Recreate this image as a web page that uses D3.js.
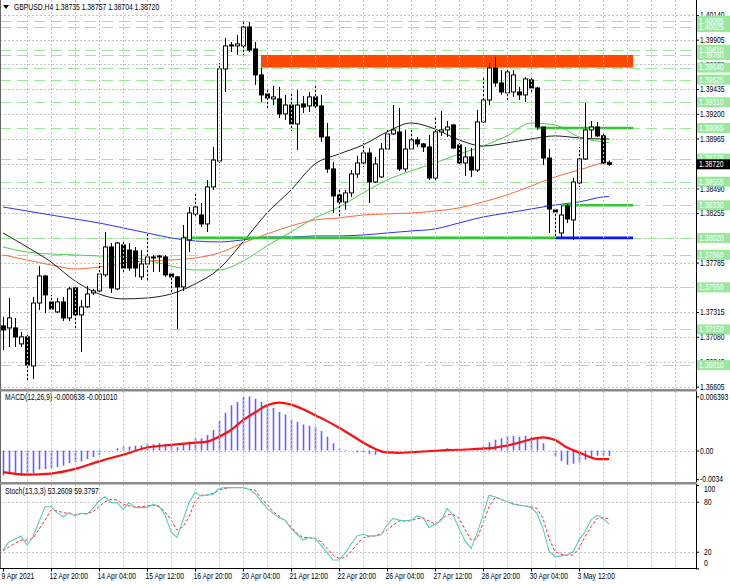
<!DOCTYPE html>
<html>
<head>
<meta charset="utf-8">
<script src="https://cdn.jsdelivr.net/npm/d3@7"></script>
<style>
  body { margin: 0; background: #fff; }
  text { font-family: "Liberation Sans", Arial, sans-serif; font-size: 8.5px; }
</style>
</head>
<body>
<svg id="chart" width="730" height="584"></svg>
<script>
// ======== DATA ========//
// GBPUSD H4 candles: [open, high, low, close]
const candles = [
  [1.37183,1.37269,1.36954,1.37145],[1.37164,1.37449,1.36983,1.37259],[1.37164,1.37259,1.36983,1.37079],
  [1.37012,1.37126,1.36983,1.37079],[1.37079,1.37098,1.36669,1.36811],[1.36802,1.37459,1.36678,1.37401],
  [1.37401,1.37753,1.37335,1.37658],[1.37658,1.37668,1.37306,1.37478],[1.37411,1.37478,1.37335,1.37344],
  [1.37316,1.37449,1.37306,1.37411],[1.37411,1.37459,1.37230,1.37259],[1.37259,1.37554,1.37230,1.37535],
  [1.37544,1.37554,1.37145,1.37288],[1.37288,1.37430,1.36935,1.37364],[1.37364,1.37563,1.37354,1.37487],
  [1.37497,1.37535,1.37478,1.37516],[1.37516,1.37782,1.37497,1.37677],[1.37668,1.38077,1.37649,1.37934],
  [1.37934,1.37972,1.37497,1.37544],[1.37535,1.37982,1.37525,1.37972],[1.37953,1.37982,1.37696,1.37734],
  [1.37905,1.37972,1.37706,1.37734],[1.37896,1.37934,1.37649,1.37734],[1.37649,1.37905,1.37620,1.37772],
  [1.37772,1.38067,1.37620,1.37839],[1.37839,1.37858,1.37696,1.37829],[1.37839,1.37858,1.37696,1.37848],
  [1.37839,1.37858,1.37649,1.37668],[1.37677,1.37696,1.37506,1.37649],[1.37649,1.37658,1.37154,1.37554],
  [1.37554,1.38143,1.37516,1.38020],[1.38001,1.38314,1.37886,1.38257],[1.38248,1.38448,1.38219,1.38314],
  [1.38238,1.38352,1.38124,1.38153],[1.38153,1.38571,1.38077,1.38505],[1.38505,1.38885,1.38476,1.38761],
  [1.38752,1.39682,1.38733,1.39627],[1.39627,1.39922,1.39408,1.39846],[1.39855,1.39884,1.39788,1.39846],
  [1.39846,1.39950,1.39760,1.39865],[1.39846,1.40074,1.39760,1.40026],[1.40026,1.40074,1.39788,1.39807],
  [1.39817,1.39884,1.39475,1.39570],[1.39570,1.39636,1.39313,1.39380],[1.39389,1.39446,1.39256,1.39351],
  [1.39342,1.39465,1.39284,1.39361],[1.39342,1.39456,1.39161,1.39199],[1.39199,1.39380,1.39142,1.39284],
  [1.39284,1.39408,1.39037,1.39104],[1.39104,1.39427,1.38856,1.39284],[1.39294,1.39370,1.39208,1.39265],
  [1.39275,1.39408,1.39218,1.39361],[1.39361,1.39484,1.39237,1.39275],[1.39275,1.39380,1.38933,1.38980],
  [1.38980,1.39113,1.38638,1.38676],[1.38676,1.38742,1.38257,1.38419],[1.38429,1.38476,1.38219,1.38362],
  [1.38362,1.38476,1.38286,1.38448],[1.38448,1.38666,1.38410,1.38628],[1.38628,1.38799,1.38590,1.38733],
  [1.38733,1.38923,1.38695,1.38828],[1.38828,1.38875,1.38352,1.38552],[1.38552,1.38790,1.38543,1.38723],
  [1.38600,1.38923,1.38590,1.38866],[1.38866,1.39047,1.38856,1.39009],[1.39009,1.39284,1.38999,1.39047],
  [1.39028,1.39256,1.38657,1.38676],[1.38676,1.39047,1.38647,1.38866],[1.38866,1.39047,1.38856,1.38952],
  [1.38952,1.38980,1.38885,1.38914],[1.38914,1.38923,1.38837,1.38885],[1.38885,1.38999,1.38571,1.38590],
  [1.38590,1.39170,1.38571,1.39028],[1.39028,1.39227,1.38990,1.39047],[1.39047,1.39132,1.38980,1.39075],
  [1.39094,1.39104,1.38866,1.38875],[1.38904,1.38923,1.38714,1.38733],[1.38733,1.38885,1.38609,1.38790],
  [1.38790,1.38875,1.38600,1.38666],[1.38666,1.39237,1.38647,1.39123],[1.39123,1.39541,1.39113,1.39332],
  [1.39332,1.39682,1.39284,1.39636],[1.39636,1.39741,1.39456,1.39494],[1.39494,1.39617,1.39380,1.39408],
  [1.39399,1.39636,1.39313,1.39598],[1.39408,1.39617,1.39361,1.39570],[1.39408,1.39456,1.39332,1.39380],
  [1.39380,1.39551,1.39313,1.39532],[1.39522,1.39541,1.39408,1.39446],[1.39446,1.39456,1.39047,1.39075],
  [1.39075,1.39075,1.38714,1.38780],[1.38780,1.38866,1.38067,1.38295],[1.38286,1.38295,1.38029,1.38267],
  [1.38067,1.38333,1.38029,1.38238],[1.38324,1.38343,1.38162,1.38200],[1.38191,1.38590,1.38001,1.38552],
  [1.38543,1.38885,1.38505,1.38771],[1.38771,1.39303,1.38761,1.39047],[1.39047,1.39132,1.38971,1.39075],
  [1.39075,1.39123,1.38980,1.38990],[1.38990,1.39009,1.38723,1.38733],[1.38735,1.38757,1.38704,1.38720]
]

// moving averages, read every 4 bars
const maIdx = [0,4,8,12,16,20,24,28,32,36,40,44,48,52,56,60,64,68,72,76,80,84,88,92,96,100,101]
const maBlack = [1.38067,1.37934,1.37791,1.37611,1.37487,1.37440,1.37449,1.37487,1.37582,1.37725,1.37982,1.38257,1.38476,1.38723,1.38818,1.38904,1.39028,1.39113,1.39056,1.38952,1.38894,1.38923,1.38961,1.38990,1.38971,1.38961,1.38961]
const maGreen = [1.37934,1.37886,1.37867,1.37858,1.37848,1.37839,1.37810,1.37753,1.37715,1.37715,1.37801,1.37944,1.38077,1.38210,1.38314,1.38448,1.38571,1.38657,1.38733,1.38818,1.38894,1.38990,1.39113,1.39094,1.38980,1.38933,1.38925]
const maOrange = [1.37858,1.37810,1.37763,1.37725,1.37744,1.37782,1.37801,1.37810,1.37829,1.37877,1.37972,1.38058,1.38134,1.38191,1.38210,1.38238,1.38248,1.38257,1.38276,1.38305,1.38362,1.38429,1.38514,1.38600,1.38666,1.38733,1.38745]
const maBlue = [1.38314,1.38276,1.38238,1.38200,1.38162,1.38115,1.38067,1.38020,1.37991,1.37982,1.38001,1.38029,1.38029,1.38039,1.38039,1.38048,1.38067,1.38086,1.38105,1.38162,1.38219,1.38257,1.38295,1.38333,1.38362,1.38410,1.38415]

// price scale labels (some sit under the level tags)
const priceTicks = [1.40140,1.39905,1.39670,1.39435,1.39200,1.38965,1.38725,1.38490,1.38255,1.38020,1.37785,1.37550,1.37315,1.37080,1.36840,1.36605]
const hiddenTicks = [1.38725, 1.38020, 1.37550]
// dashed support / resistance levels
const levels = [1.40085,1.40025,1.39810,1.39760,1.39640,1.39525,1.39310,1.39065,1.38775,1.38555,1.38330,1.38020,1.37860,1.37550,1.37150,1.36810]
// resistance zone
const zoneTop = 1.39760, zoneBottom = 1.39640, zoneFrom = 43, zoneTo = 105
// solid level segments
const segLevel = [1.39065, 1.38330, 1.38020, 1.38020]
const segFrom = [89, 93, 30, 92]
const segTo = [105, 105, 92, 105]
const segKind = ['green', 'green', 'green', 'blue']
const lastPrice = 1.38720

// MACD(12,26,9)
const macdHist = [
  -0.00297,-0.00285,-0.00293,-0.00293,-0.00293,-0.00265,-0.00226,-0.00218,-0.00206,-0.00195,
  -0.00179,-0.00148,-0.00136,-0.00129,-0.00101,-0.00077,-0.00050,-0.00004,0.00004,0.00027,
  0.00047,0.00047,0.00055,0.00059,0.00079,0.00074,0.00086,0.00079,0.00067,0.00039,
  0.00074,0.00106,0.00144,0.00144,0.00184,0.00243,0.00352,0.00446,0.00536,0.00575,
  0.00633,0.006393,0.00613,0.00575,0.00543,0.00504,0.00457,0.00426,0.00367,0.00340,
  0.00309,0.00293,0.00282,0.00231,0.00164,0.00086,0.00027,0.00008,-0.00004,-0.00020,
  -0.00023,-0.00039,-0.00050,-0.00023,-0.00012,-0.00004,0.00004,-0.00004,-0.00012,0.00002,
  0.00004,-0.00004,0.00004,0.00012,0.00027,0.00012,0.00012,0.00004,-0.00004,0.00015,
  0.00047,0.00097,0.00126,0.00144,0.00172,0.00172,0.00164,0.00176,0.00164,0.00144,
  0.00086,-0.00002,-0.00070,-0.00123,-0.00168,-0.00156,-0.00141,-0.00109,-0.00090,-0.00062,
  -0.00062,-0.000638
]
const macdSigIdx = [0,4,8,12,16,20,24,28,32,34,36,38,40,42,44,46,48,50,52,54,56,58,60,62,64,66,70,74,78,82,84,86,88,90,92,94,96,98,99,101]
const macdSig = [-0.00255,-0.00285,-0.00273,-0.00218,-0.00129,-0.00050,0.00035,0.00067,0.00094,0.00106,0.00164,0.00243,0.00360,0.00450,0.00536,0.00567,0.00543,0.00489,0.00418,0.00348,0.00270,0.00184,0.00094,0.00020,-0.00023,-0.00027,-0.00012,0.00004,0.00015,0.00035,0.00059,0.00094,0.00133,0.00156,0.00125,0.00035,-0.00023,-0.00082,-0.00101,-0.00101]
const macdTicks = [0.006393, 0, -0.0034]
const macdTickText = ['0.006393', '0.00', '-0.0034']

// Stochastic(13,3,3)
const stochMain = [
  22,32,35,39,28,38,56,74,74,67,62,67,63,66,65,72,81,86,79,79,
  71,79,73,73,73,77,75,64,44,37,58,79,91,87,88,89,96,97,97,97,
  97,95,90,81,72,66,61,58,48,41,34,37,36,28,19,10,10,18,29,39,
  41,39,39,40,52,60,58,57,58,63,61,49,53,57,72,64,48,33,24,42,
  64,88,86,83,80,77,76,75,73,66,48,21,14,15,16,20,34,44,58,64,
  60,53.26
]
const stochSignal = [
  21,26,30,34,34,36,47,58,70,69,67,66,64,66,66,68,74,80,83,82,
  77,75,74,74,75,76,74,68,58,46,50,62,80,88,88,90,94,96,97,97,
  97,95,94,84,77,68,63,57,50,42,37,37,36,32,24,16,12,13,20,29,
  37,38,39,42,46,52,57,57,57,60,60,57,53,59,64,65,60,47,34,36,
  54,74,85,83,80,78,76,75,74,72,60,36,20,17,16,16,24,38,50,60,
  61,59.38
]
const stochTicks = [100, 80, 20, 0]

// time axis
const timeIdx = [0,8,16,24,32,40,48,56,64,72,80,88,96]
const timeLabels = ['9 Apr 2021','12 Apr 20:00','14 Apr 04:00','15 Apr 12:00','16 Apr 20:00','20 Apr 04:00',
  '21 Apr 12:00','22 Apr 20:00','26 Apr 04:00','27 Apr 12:00','28 Apr 20:00','30 Apr 04:00','3 May 12:00']

// ======== LAYOUT ========//
const plotRight = 696
const panels = {
  main: [0, 389],
  macd: [391.5, 482],
  stoch: [484.5, 568]
}

const svg = d3.select('#chart')
svg.append('rect').attr('width', 730).attr('height', 584).attr('fill', '#fff')

const x = d3.scaleLinear().domain([0, 1]).range([3, 9])
const yPrice = d3.scaleLinear().domain([1.36605, 1.40140]).range([386.7, 15])
const yMacd = d3.scaleLinear().domain([0, 0.006393]).range([450.5, 396.5])
const yStoch = d3.scaleLinear().domain([0, 100]).range([568.4, 485.1])

const defs = svg.append('defs')
Object.entries(panels).forEach(([k, [t, b]]) => {
  defs.append('clipPath').attr('id', 'clip-' + k)
    .append('rect').attr('x', 0).attr('y', t).attr('width', plotRight).attr('height', b - t)
})

const gMain = svg.append('g').attr('clip-path', 'url(#clip-main)')
const gMacd = svg.append('g').attr('clip-path', 'url(#clip-macd)')
const gStoch = svg.append('g').attr('clip-path', 'url(#clip-stoch)')

// vertical grid
const gridX = d3.range(27, plotRight, 24)
const grid = '#c4c4c4'
Object.entries(panels).forEach(([k, [t, b]]) => {
  svg.append('g').selectAll('line').data(gridX).join('line')
    .attr('x1', d => d + 0.5).attr('x2', d => d + 0.5)
    .attr('y1', t).attr('y2', b)
    .attr('stroke', grid).attr('stroke-dasharray', '2,2')
})

// ======== MAIN ========//
const crisp = v => Math.round(v) + 0.5

gMain.append('g').selectAll('line').data(priceTicks).join('line')
  .attr('x1', 0).attr('x2', plotRight)
  .attr('y1', d => crisp(yPrice(d))).attr('y2', d => crisp(yPrice(d)))
  .attr('stroke', grid).attr('stroke-dasharray', '2,2')

gMain.append('g').selectAll('line').data(levels).join('line')
  .attr('x1', 0).attr('x2', plotRight)
  .attr('y1', d => crisp(yPrice(d))).attr('y2', d => crisp(yPrice(d)))
  .attr('stroke', '#9be89b').attr('stroke-dasharray', '11,6')

gMain.append('rect')
  .attr('x', x(zoneFrom)).attr('width', x(zoneTo) - x(zoneFrom))
  .attr('y', yPrice(zoneTop)).attr('height', yPrice(zoneBottom) - yPrice(zoneTop))
  .attr('fill', '#ff4800')

const maLine = vals => d3.line()
  .x((d, i) => x(maIdx[i]))
  .y(d => yPrice(d))
  .curve(d3.curveMonotoneX)(vals)

const maDefs = [[maBlue, '#3030ff'], [maOrange, '#ff6a3d'], [maGreen, '#4ccf4c'], [maBlack, '#222']]
maDefs.forEach(([vals, col]) => {
  gMain.append('path').attr('d', maLine(vals))
    .attr('fill', 'none').attr('stroke', col).attr('stroke-width', 1)
})

segLevel.forEach((lv, i) => {
  gMain.append('line')
    .attr('x1', x(segFrom[i])).attr('x2', x(segTo[i]))
    .attr('y1', yPrice(lv)).attr('y2', yPrice(lv))
    .attr('stroke', segKind[i] === 'blue' ? '#0a14ff' : '#33c633')
    .attr('stroke-width', 2.6)
})

const gc = gMain.append('g').selectAll('g').data(candles).join('g')
gc.append('line')
  .attr('x1', (d, i) => x(i) + 0.5).attr('x2', (d, i) => x(i) + 0.5)
  .attr('y1', d => yPrice(d[1])).attr('y2', d => yPrice(d[2]))
  .attr('stroke', '#000')
gc.append('rect')
  .attr('x', (d, i) => x(i) - 1.5)
  .attr('width', 4)
  .attr('y', d => yPrice(Math.max(d[0], d[3])))
  .attr('height', d => Math.max(1, Math.abs(yPrice(d[0]) - yPrice(d[3]))))
  .attr('fill', d => d[3] >= d[0] ? '#fff' : '#000')
  .attr('stroke', '#000').attr('stroke-width', 1)

// ======== MACD ========//
gMacd.append('line')
  .attr('x1', 0).attr('x2', plotRight)
  .attr('y1', crisp(yMacd(0))).attr('y2', crisp(yMacd(0)))
  .attr('stroke', grid).attr('stroke-dasharray', '2,2')

gMacd.append('g').selectAll('line').data(macdHist).join('line')
  .attr('x1', (d, i) => x(i) + 0.5).attr('x2', (d, i) => x(i) + 0.5)
  .attr('y1', yMacd(0)).attr('y2', d => yMacd(d))
  .attr('stroke', '#6262ff').attr('stroke-width', 1.6)

gMacd.append('path')
  .attr('d', d3.line().x((d, i) => x(macdSigIdx[i])).y(d => yMacd(d)).curve(d3.curveMonotoneX)(macdSig))
  .attr('fill', 'none').attr('stroke', '#ff1010').attr('stroke-width', 2.2)

// ======== STOCH ========//
gStoch.append('g').selectAll('line').data([80, 20]).join('line')
  .attr('x1', 0).attr('x2', plotRight)
  .attr('y1', d => crisp(yStoch(d))).attr('y2', d => crisp(yStoch(d)))
  .attr('stroke', grid).attr('stroke-dasharray', '2,2')

const stochLine = d3.line().x((d, i) => x(i)).y(d => yStoch(d))
gStoch.append('path').attr('d', stochLine(stochSignal))
  .attr('fill', 'none').attr('stroke', '#ff3030').attr('stroke-dasharray', '3,2')
gStoch.append('path').attr('d', stochLine(stochMain))
  .attr('fill', 'none').attr('stroke', '#55cfc0').attr('stroke-width', 1.1)

// ======== FRAME ========//
svg.append('line').attr('x1', 0.5).attr('x2', 0.5).attr('y1', 0).attr('y2', 568).attr('stroke', '#666')
svg.append('line').attr('x1', plotRight + 0.5).attr('x2', plotRight + 0.5).attr('y1', 0).attr('y2', 568.5).attr('stroke', '#000')
svg.append('line').attr('x1', 0).attr('x2', plotRight + 1).attr('y1', 568.5).attr('y2', 568.5).attr('stroke', '#000')
svg.append('rect').attr('x', 0).attr('y', 389).attr('width', plotRight + 1).attr('height', 2.5).attr('fill', '#8a8a8a')
svg.append('rect').attr('x', 0).attr('y', 482).attr('width', plotRight + 1).attr('height', 2.5).attr('fill', '#8a8a8a')

// ======== AXES ========//
const styleAxis = g => {
  g.select('.domain').remove()
  g.selectAll('line').attr('stroke', '#000')
  g.selectAll('text').attr('fill', '#000')
}

svg.append('g').attr('transform', `translate(${plotRight},0)`)
  .call(d3.axisRight(yPrice).tickValues(priceTicks)
    .tickFormat(d => hiddenTicks.includes(d) ? '' : d.toFixed(5)).tickSize(3).tickPadding(1))
  .call(styleAxis)

svg.append('g').attr('transform', `translate(${plotRight},0)`)
  .call(d3.axisRight(yMacd).tickValues(macdTicks)
    .tickFormat((d, i) => macdTickText[i]).tickSize(3).tickPadding(1))
  .call(styleAxis)

// stoch scale: end labels are pulled inside the panel
const gStochAxis = svg.append('g').attr('transform', `translate(${plotRight},0)`)
  .call(d3.axisRight(yStoch).tickValues(stochTicks).tickFormat('').tickSize(3))
  .call(styleAxis)
gStochAxis.selectAll('text.lbl').data(stochTicks).join('text')
  .attr('class', 'lbl')
  .attr('x', 8)
  .attr('y', d => yStoch(d) + (d === 100 ? 4 : d === 0 ? -5 : 0))
  .attr('dy', '0.34em')
  .attr('fill', '#000')
  .text(d => d)

// level tags on the price scale
const tag = svg.append('g')
tag.selectAll('rect').data(levels).join('rect')
  .attr('x', plotRight + 1).attr('y', d => yPrice(d) - 5).attr('width', 34).attr('height', 10)
  .attr('fill', '#9be89b')
tag.selectAll('text').data(levels).join('text')
  .attr('x', plotRight + 3).attr('y', d => yPrice(d)).attr('dy', '0.34em')
  .attr('fill', '#fff').text(d => d.toFixed(5))

svg.append('rect').attr('x', plotRight + 1).attr('y', yPrice(lastPrice) - 5)
  .attr('width', 34).attr('height', 10).attr('fill', '#000')
svg.append('text').attr('x', plotRight + 3).attr('y', yPrice(lastPrice)).attr('dy', '0.34em')
  .attr('fill', '#fff').text(lastPrice.toFixed(5))

svg.append('g').attr('transform', 'translate(0,568.5)')
  .call(d3.axisBottom(x).tickValues(timeIdx).tickFormat((d, i) => timeLabels[i]).tickSize(3).tickPadding(1))
  .call(styleAxis)
  .call(g => g.selectAll('text').attr('text-anchor', 'start').attr('dx', -2))

// ======== TITLES ========//
svg.append('path').attr('d', 'M3,5 L9,5 L6,9 Z').attr('fill', '#000')
svg.append('text').attr('x', 14).attr('y', 10).text('GBPUSD.H4  1.38735 1.38757 1.38704 1.38720')
svg.append('text').attr('x', 5).attr('y', 400).text('MACD(12,26,9) -0.000638 -0.001010')
svg.append('text').attr('x', 5).attr('y', 494).text('Stoch(13,3,3) 53.2609 59.3797')

// the terminal font is narrow: squeeze every label to match
svg.selectAll('text').each(function () {
  const w = this.getComputedTextLength()
  if (w > 0) d3.select(this).attr('textLength', w * 0.8).attr('lengthAdjust', 'spacingAndGlyphs')
})
</script>
</body>
</html>
